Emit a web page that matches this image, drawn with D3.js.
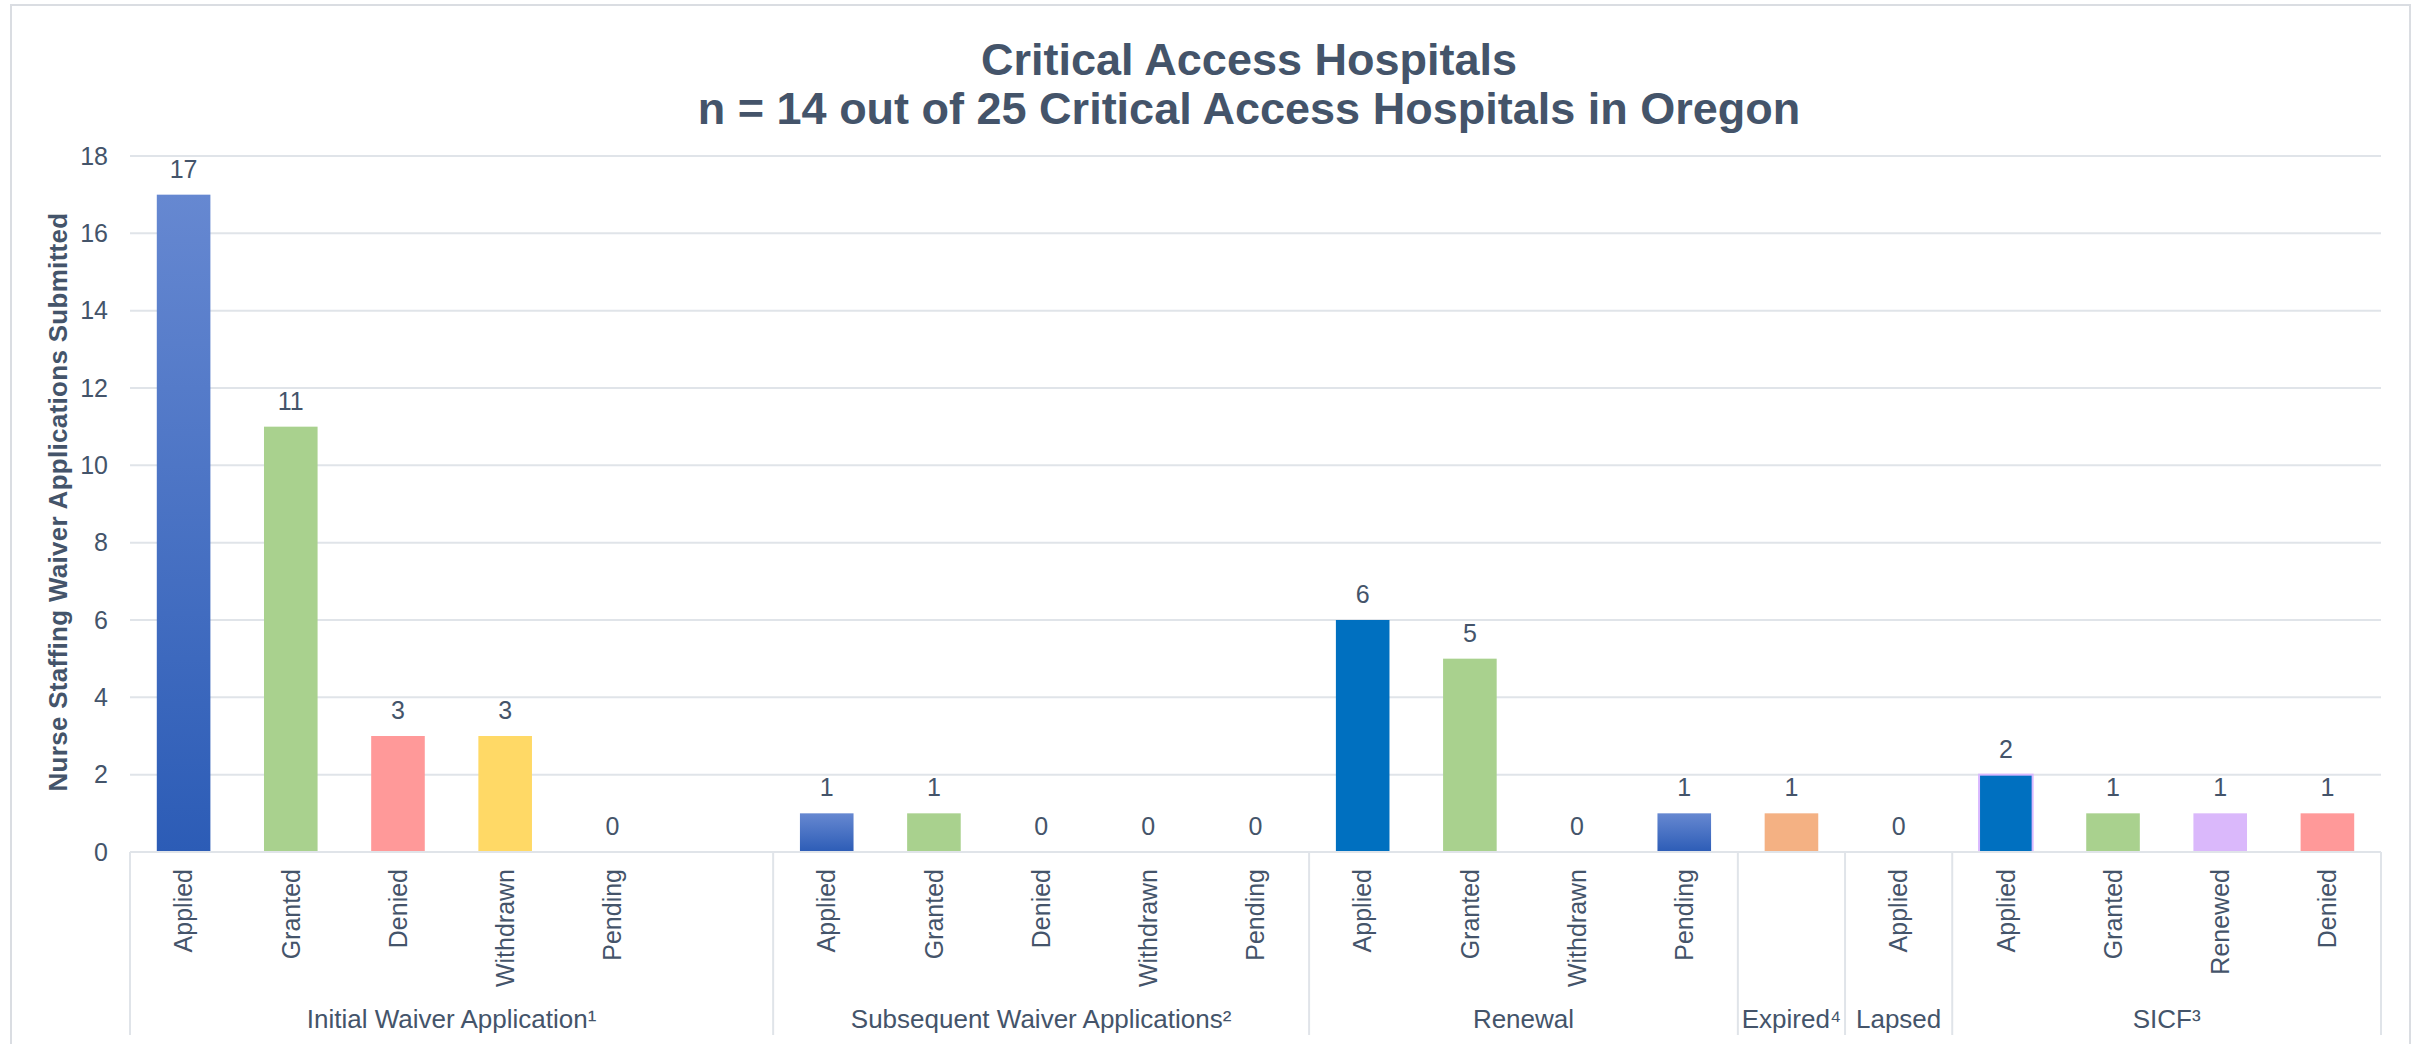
<!DOCTYPE html>
<html lang="en">

<head>
  <meta charset="utf-8">
  <title>Critical Access Hospitals</title>
  <script src="https://d3js.org/d3.v7.min.js"></script>
  <style>
    body {
      margin: 0;
      background-color: white;
    }

    text {
      font-family: Arial, "Liberation Sans", sans-serif;
      fill: #44546a;
    }

    .title {
      font-size: 45px;
      font-weight: bold;
      text-anchor: middle;
    }

    .grid line {
      stroke: #e0e4e9;
      stroke-width: 2px;
    }

    .tick-label {
      font-size: 25px;
      text-anchor: end;
    }

    .value-label {
      font-size: 25px;
      text-anchor: middle;
    }

    .cat-label {
      font-size: 25px;
      text-anchor: end;
    }

    .group-label {
      font-size: 26px;
      text-anchor: middle;
    }

    .ytitle {
      font-size: 26px;
      font-weight: bold;
      letter-spacing: 0.3px;
      text-anchor: middle;
    }

    .sep {
      stroke: #e0e4e9;
      stroke-width: 2px;
    }
  </style>
</head>

<body>
  <div id="chart"></div>

  <script>
    // chart data
    var titleLines = ["Critical Access Hospitals", "n = 14 out of 25 Critical Access Hospitals in Oregon"];
    var yTitle = "Nurse Staffing Waiver Applications Submitted";

    var categories = [
      "Applied", "Granted", "Denied", "Withdrawn", "Pending", "",
      "Applied", "Granted", "Denied", "Withdrawn", "Pending",
      "Applied", "Granted", "Withdrawn", "Pending",
      "",
      "Applied",
      "Applied", "Granted", "Renewed", "Denied"
    ];
    var values = [
      17, 11, 3, 3, 0, null,
      1, 1, 0, 0, 0,
      6, 5, 0, 1,
      1,
      0,
      2, 1, 1, 1
    ];
    var groups = ["Initial Waiver Application¹", "Subsequent Waiver Applications²", "Renewal", "Expired⁴", "Lapsed", "SICF³"];
    var groupSizes = [6, 5, 4, 1, 1, 4];
    var yTicks = [0, 2, 4, 6, 8, 10, 12, 14, 16, 18];

    // bar fills, one per category
    var barFills = [
      "url(#blueGrad)", "#a9d18e", "#ff9999", "#ffd966", "none", "none",
      "url(#blueGrad)", "#a9d18e", "none", "none", "none",
      "#0070c0", "#a9d18e", "none", "url(#blueGrad)",
      "#f4b183",
      "none",
      "#0070c0", "#a9d18e", "#dab8fb", "#ff9999"
    ];

    var width = 2413, height = 1044;
    var plot = {left: 130, right: 2381, top: 156, bottom: 852};

    var svg = d3.select("#chart")
      .append("svg")
        .attr("width", width)
        .attr("height", height);

    var defs = svg.append("defs");
    var grad = defs.append("linearGradient")
      .attr("id", "blueGrad")
      .attr("x1", 0).attr("y1", 0)
      .attr("x2", 0).attr("y2", 1);
    grad.append("stop").attr("offset", "0%").attr("stop-color", "#6688d1");
    grad.append("stop").attr("offset", "100%").attr("stop-color", "#2c5cb6");

    // outer border
    svg.append("rect")
      .attr("x", 11)
      .attr("y", 5)
      .attr("width", 2399)
      .attr("height", 1060)
      .attr("fill", "none")
      .attr("stroke", "#dadde2")
      .attr("stroke-width", 2);

    var x = d3.scaleBand()
      .domain(d3.range(categories.length))
      .range([plot.left, plot.right])
      .paddingInner(0.5)
      .paddingOuter(0.25);

    var y = d3.scaleLinear()
      .domain([0, 18])
      .range([plot.bottom, plot.top]);

    // title
    svg.selectAll(".title")
      .data(titleLines)
      .enter()
      .append("text")
        .attr("class", "title")
        .attr("x", 1249)
        .attr("y", function(d, i) { return 75 + i * 49; })
        .text(function(d) { return d; });

    // gridlines
    svg.append("g")
      .attr("class", "grid")
      .selectAll("line")
      .data(yTicks)
      .enter()
      .append("line")
        .attr("x1", plot.left)
        .attr("x2", plot.right)
        .attr("y1", function(d) { return y(d); })
        .attr("y2", function(d) { return y(d); });

    // y tick labels
    svg.selectAll(".tick-label")
      .data(yTicks)
      .enter()
      .append("text")
        .attr("class", "tick-label")
        .attr("x", 108)
        .attr("y", function(d) { return y(d); })
        .attr("dy", "0.35em")
        .text(function(d) { return d; });

    // y title
    svg.append("text")
      .attr("class", "ytitle")
      .attr("transform", "translate(67," + ((plot.top + plot.bottom) / 2 - 2) + ") rotate(-90)")
      .text(yTitle);

    var idx = d3.range(categories.length);

    // bars
    svg.selectAll(".bar")
      .data(idx.filter(function(i) { return values[i] > 0; }))
      .enter()
      .append("rect")
        .attr("class", "bar")
        .attr("x", function(i) { return x(i); })
        .attr("width", x.bandwidth())
        .attr("y", function(i) { return y(values[i]); })
        .attr("height", function(i) { return y(0) - y(values[i]); })
        .attr("fill", function(i) { return barFills[i]; })
        .attr("stroke", function(i) { return i == 17 ? "#d9b8ff" : "none"; })
        .attr("stroke-width", 2);

    // value labels
    svg.selectAll(".value-label")
      .data(idx.filter(function(i) { return values[i] != null; }))
      .enter()
      .append("text")
        .attr("class", "value-label")
        .attr("x", function(i) { return x(i) + x.bandwidth() / 2; })
        .attr("y", function(i) { return y(values[i]) - 17; })
        .text(function(i) { return values[i]; });

    // x axis line
    svg.append("line")
      .attr("class", "sep")
      .attr("x1", plot.left)
      .attr("x2", plot.right)
      .attr("y1", plot.bottom)
      .attr("y2", plot.bottom);

    // category labels
    svg.selectAll(".cat-label")
      .data(idx)
      .enter()
      .append("text")
        .attr("class", "cat-label")
        .attr("transform", function(i) {
          return "translate(" + (x(i) + x.bandwidth() / 2) + ",869) rotate(-90)";
        })
        .attr("dy", "0.35em")
        .text(function(i) { return categories[i]; });

    // group separators and labels
    var step = x.step();
    var starts = [0];
    groupSizes.forEach(function(n, i) { starts.push(starts[i] + n); });

    svg.selectAll(".group-sep")
      .data(starts)
      .enter()
      .append("line")
        .attr("class", "sep")
        .attr("x1", function(d) { return plot.left + d * step; })
        .attr("x2", function(d) { return plot.left + d * step; })
        .attr("y1", plot.bottom)
        .attr("y2", 1035);

    svg.selectAll(".group-label")
      .data(groups)
      .enter()
      .append("text")
        .attr("class", "group-label")
        .attr("x", function(d, i) { return plot.left + (starts[i] + groupSizes[i] / 2) * step; })
        .attr("y", 1028)
        .text(function(d) { return d; });
  </script>
</body>

</html>
